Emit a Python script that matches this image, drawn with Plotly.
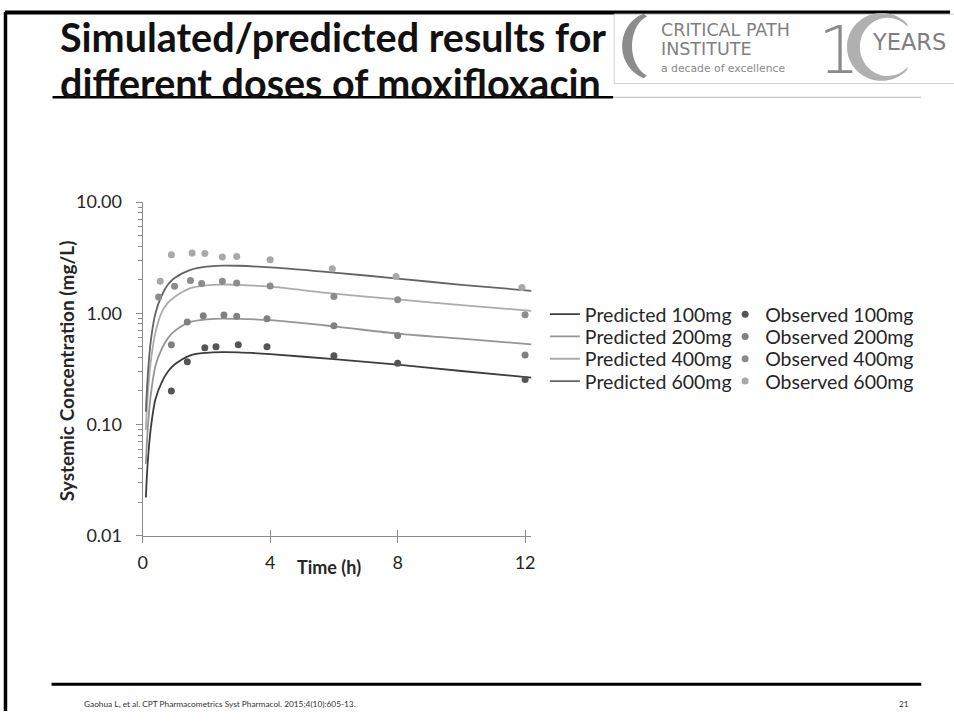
import numpy as np
import plotly.graph_objects as go

# ---------------- data ----------------
pred_time = [0.1, 0.15, 0.25, 0.4, 0.6, 0.8, 1.0, 1.5, 2.0, 2.5, 3.0, 4.0, 6.0, 8.0, 10.0, 12.2]
pred_100 = [0.022, 0.042, 0.09, 0.168, 0.24, 0.30, 0.345, 0.418, 0.44, 0.446, 0.444, 0.428, 0.386, 0.345, 0.302, 0.263]
pred_200 = [0.044, 0.084, 0.18, 0.335, 0.48, 0.60, 0.69, 0.835, 0.88, 0.895, 0.89, 0.865, 0.76, 0.655, 0.59, 0.525]
pred_400 = [0.089, 0.17, 0.36, 0.67, 1.02, 1.25, 1.40, 1.68, 1.78, 1.81, 1.80, 1.73, 1.50, 1.33, 1.18, 1.05]
pred_600 = [0.13, 0.25, 0.55, 1.00, 1.45, 1.82, 2.07, 2.45, 2.62, 2.68, 2.67, 2.58, 2.32, 2.05, 1.80, 1.59]

obs_time_100 = [0.9, 1.4, 1.95, 2.3, 3.0, 3.9, 6.0, 8.0, 12.0]
obs_100 = [0.20, 0.365, 0.49, 0.50, 0.52, 0.50, 0.415, 0.355, 0.253]
obs_time_200 = [0.9, 1.4, 1.9, 2.55, 2.95, 3.9, 6.0, 8.0, 12.0]
obs_200 = [0.52, 0.835, 0.95, 0.965, 0.94, 0.89, 0.77, 0.63, 0.42]
obs_time_400 = [0.5, 1.0, 1.5, 1.85, 2.5, 2.95, 4.0, 6.0, 8.0, 12.0]
obs_400 = [1.40, 1.75, 1.97, 1.85, 1.94, 1.87, 1.76, 1.41, 1.32, 0.97]
obs_time_600 = [0.55, 0.9, 1.55, 1.95, 2.5, 2.95, 4.0, 5.95, 7.95, 11.9]
obs_600 = [1.94, 3.35, 3.47, 3.45, 3.21, 3.24, 3.02, 2.51, 2.14, 1.70]

doses = ["100mg", "200mg", "400mg", "600mg"]
x_ticks = [0, 4, 8, 12]
y_ticks = [0.01, 0.1, 1, 10]
y_ticktext = ["0.01", "0.10", "1.00", "10.00"]

# ---------------- styles ----------------
W, H = 954, 721
FONT = "Lato, 'Open Sans', sans-serif"
pred_colors = ["#3c3c3c", "#959595", "#ababab", "#646464"]
obs_colors = ["#555555", "#808080", "#8c8c8c", "#a8a8a8"]
AX = "#8a8a8a"
TXT = "#262626"
legend_rows_y = [312, 335, 358, 381]


def X(px):
    return px / W


def Y(py):
    return 1 - py / H


fig = go.Figure()
preds = [pred_100, pred_200, pred_400, pred_600]
for i, (name, vals, col) in enumerate(zip(doses, preds, pred_colors)):
    fig.add_trace(go.Scatter(x=pred_time, y=vals, mode="lines", name="Predicted " + name,
                             line=dict(color=col, width=1.8, shape="spline", smoothing=0.8),
                             legend=f"legend{i + 1}" if i else "legend"))
obs = [(obs_time_100, obs_100), (obs_time_200, obs_200), (obs_time_400, obs_400), (obs_time_600, obs_600)]
for i, (name, (tx, vals), col) in enumerate(zip(doses, obs, obs_colors)):
    fig.add_trace(go.Scatter(x=tx, y=vals, mode="markers", name="Observed " + name,
                             marker=dict(color=col, size=7), legend=f"legend{i + 5}"))

# empty helper trace so the overlaying x axis draws inward ticks (crossing ticks)
fig.add_trace(go.Scatter(x=[], y=[], xaxis="x2", yaxis="y", showlegend=False, hoverinfo="skip"))

x0, x1 = X(139), X(531.5)
ytop, ybot = Y(196), Y(540)

minor_vals = [m * 10 ** e for e in (-2, -1, 0) for m in range(2, 10)]

legends = {}
for i in range(8):
    key = "legend" if i == 0 else f"legend{i + 1}"
    lx = 545 if i < 4 else 727
    legends[key] = dict(x=X(lx), y=Y(legend_rows_y[i % 4]), xanchor="left", yanchor="middle",
                        bgcolor="rgba(0,0,0,0)", font=dict(family=FONT, size=19.5, color=TXT),
                        itemwidth=30)

fig.update_layout(
    width=W, height=H, margin=dict(l=0, r=0, t=0, b=0),
    paper_bgcolor="white", plot_bgcolor="white",
    font=dict(family=FONT, color=TXT),
    xaxis=dict(domain=[x0, x1], range=[0, 12.2], tickvals=x_ticks, ticks="outside", ticklen=6,
               tickcolor=AX, tickwidth=1, showline=True, linecolor=AX, linewidth=1.2,
               showgrid=False, zeroline=False, tickfont=dict(size=18, color=TXT), anchor="y",
               ticklabelstandoff=5),
    xaxis2=dict(domain=[x0, x1], range=[0, 12.2], tickvals=x_ticks, ticks="inside", ticklen=6,
                tickcolor=AX, tickwidth=1, showticklabels=False, showgrid=False, zeroline=False,
                overlaying="x", anchor="y"),
    yaxis=dict(domain=[ybot, ytop], type="log", range=[-2, 1], tickvals=y_ticks, ticktext=y_ticktext,
               ticks="outside", ticklen=6, tickcolor=AX, tickwidth=1, showline=True, linecolor=AX,
               linewidth=1.2, showgrid=False, zeroline=False, tickfont=dict(size=18, color=TXT),
               ticklabelstandoff=10,
               minor=dict(tickvals=minor_vals, ticks="outside", ticklen=4, tickcolor=AX, showgrid=False)),
    showlegend=True,
    **legends,
)

# axis titles
fig.add_annotation(x=X(62), y=Y(370), xref="paper", yref="paper", xanchor="center", yanchor="middle",
                   text="<b>Systemic Concentration (mg/L)</b>", textangle=-90, showarrow=False,
                   font=dict(size=19, color=TXT))
fig.add_annotation(x=X(293), y=Y(572), xref="paper", yref="paper", xanchor="left", yanchor="middle",
                   text="<b>Time (h)</b>", showarrow=False, font=dict(size=18, color=TXT))

# ---------------- slide decorations ----------------
shapes = []
shapes.append(dict(type="line", xref="paper", yref="paper", x0=0, x1=1, y0=Y(0.5), y1=Y(0.5),
                   line=dict(color="black", width=4)))
shapes.append(dict(type="line", xref="paper", yref="paper", x0=X(0.5), x1=X(0.5), y0=0, y1=1,
                   line=dict(color="black", width=3.5)))
shapes.append(dict(type="line", xref="paper", yref="paper", x0=X(47), x1=X(925), y0=Y(693.4),
                   y1=Y(693.4), line=dict(color="black", width=3)))
shapes.append(dict(type="line", xref="paper", yref="paper", x0=X(48), x1=X(614), y0=Y(88),
                   y1=Y(88), line=dict(color="black", width=2.5)))
shapes.append(dict(type="line", xref="paper", yref="paper", x0=X(614), x1=X(925), y0=Y(88),
                   y1=Y(88), line=dict(color="#c8c8c8", width=1.2)))
shapes.append(dict(type="rect", xref="paper", yref="paper", x0=X(615), x1=1.01, y0=Y(73.8),
                   y1=Y(2.2), line=dict(color="#cfcfcf", width=1), fillcolor="white"))


def px_path(points):
    return "M " + " L ".join(f"{X(x):.5f},{Y(y):.5f}" for x, y in points) + " Z"


# crescent of the logo
th = np.linspace(-1.25, 1.25, 40)
outer = [(655 - 32 * np.cos(t), 35 + 35 * np.sin(t)) for t in th]
inner = [(655 - 22 * np.cos(t), 35 + 32 * np.sin(t)) for t in th[::-1]]
shapes.append(dict(type="path", xref="paper", yref="paper", path=px_path(outer + inner),
                   fillcolor="#8c8c8c", line=dict(width=0)))
# ring of the "10"
th2 = np.linspace(0.75, 2 * np.pi - 0.75, 60)
ro = [(885 + 35 * np.cos(t), 36 - 35 * np.sin(t)) for t in th2]
ri = [(891 + 28 * np.cos(t), 36 - 30 * np.sin(t)) for t in th2[::-1]]
shapes.append(dict(type="path", xref="paper", yref="paper", path=px_path(ro + ri),
                   fillcolor="#b0b0b0", line=dict(width=0)))
fig.update_layout(shapes=shapes)

# title
fig.add_annotation(x=X(54), y=Y(25), xref="paper", yref="paper", xanchor="left", yanchor="middle",
                   text="<b>Simulated/predicted results for</b>", showarrow=False,
                   font=dict(family=FONT, size=39.5, color="#111111"))
fig.add_annotation(x=X(54), y=Y(73), xref="paper", yref="paper", xanchor="left", yanchor="middle",
                   text="<b>different doses of moxifloxacin</b>", showarrow=False,
                   font=dict(family=FONT, size=39.5, color="#111111"))
# logo text
logo_font = "'DejaVu Sans', sans-serif"
fig.add_annotation(x=X(660), y=Y(18), xref="paper", yref="paper", xanchor="left", yanchor="middle",
                   text="CRITICAL PATH", showarrow=False, height=19,
                   font=dict(family=logo_font, size=17.5, color="#7f7f7f"))
fig.add_annotation(x=X(660), y=Y(38), xref="paper", yref="paper", xanchor="left", yanchor="middle",
                   text="INSTITUTE", showarrow=False, height=19,
                   font=dict(family=logo_font, size=17.5, color="#7f7f7f"))
fig.add_annotation(x=X(660), y=Y(58), xref="paper", yref="paper", xanchor="left", yanchor="middle",
                   text="a decade of excellence", showarrow=False,
                   font=dict(family=logo_font, size=10.8, color="#8a8a8a"))
fig.add_annotation(x=X(842), y=Y(40), xref="paper", yref="paper", xanchor="center", yanchor="middle",
                   text="1", showarrow=False, font=dict(family="'DejaVu Sans'", size=66, color="#8a8a8a", weight=200))
fig.add_annotation(x=X(873), y=Y(31), xref="paper", yref="paper", xanchor="left", yanchor="middle",
                   text="YEARS", showarrow=False, font=dict(family=logo_font, size=22.5, color="#7f7f7f"))

# footer
fig.add_annotation(x=X(78), y=Y(714), xref="paper", yref="paper", xanchor="left", yanchor="middle",
                   text="Gaohua L, et al. CPT Pharmacometrics Syst Pharmacol. 2015;4(10):605-13.",
                   showarrow=False, font=dict(family=FONT, size=8.3, color="#333333"))
fig.add_annotation(x=X(915), y=Y(714), xref="paper", yref="paper", xanchor="right", yanchor="middle",
                   text="21", showarrow=False, font=dict(family=FONT, size=8.3, color="#333333"))

fig.write_html("out.html")
